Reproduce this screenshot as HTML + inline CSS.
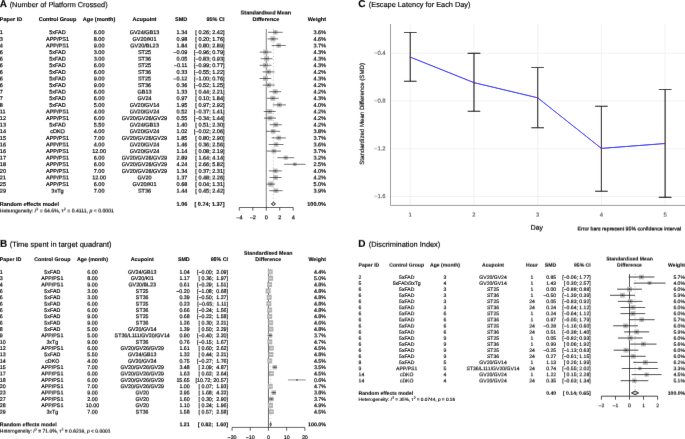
<!DOCTYPE html>
<html><head><meta charset="utf-8"><title>Figure</title>
<style>
html,body{margin:0;padding:0;background:#fff;}
body{width:685px;height:439px;overflow:hidden;font-family:"Liberation Sans",sans-serif;}
svg{display:block;}
svg text{font-family:"Liberation Sans",sans-serif;white-space:pre;text-rendering:geometricPrecision;}
</style></head><body>
<svg width="685" height="439" viewBox="0 0 685 439">
<defs>
<filter id="f0" x="0" y="0" width="685" height="439" filterUnits="userSpaceOnUse"><feConvolveMatrix order="3" kernelMatrix="0.00276 0.04704 0.00276 0.04704 0.80077 0.04704 0.00276 0.04704 0.00276" edgeMode="duplicate" preserveAlpha="false"/></filter>
<filter id="t4" x="0" y="0" width="685" height="439" filterUnits="userSpaceOnUse"><feConvolveMatrix order="3" kernelMatrix="0.02624 0.44666 0.02624 0.02624 0.44666 0.02624 0.00009 0.00154 0.00009" edgeMode="duplicate" preserveAlpha="false"/></filter>
<filter id="t5" x="0" y="0" width="685" height="439" filterUnits="userSpaceOnUse"><feConvolveMatrix order="3" kernelMatrix="0.01726 0.29384 0.01726 0.03506 0.59683 0.03506 0.00025 0.00418 0.00025" edgeMode="duplicate" preserveAlpha="false"/></filter>
<filter id="t6" x="0" y="0" width="685" height="439" filterUnits="userSpaceOnUse"><feConvolveMatrix order="3" kernelMatrix="0.01014 0.17260 0.01014 0.04184 0.71211 0.04184 0.00060 0.01014 0.00060" edgeMode="duplicate" preserveAlpha="false"/></filter>
<filter id="t7" x="0" y="0" width="685" height="439" filterUnits="userSpaceOnUse"><feConvolveMatrix order="3" kernelMatrix="0.00546 0.09300 0.00546 0.04578 0.77932 0.04578 0.00132 0.02254 0.00132" edgeMode="duplicate" preserveAlpha="false"/></filter>
<filter id="t8" x="0" y="0" width="685" height="439" filterUnits="userSpaceOnUse"><feConvolveMatrix order="3" kernelMatrix="0.00276 0.04704 0.00276 0.04704 0.80077 0.04704 0.00276 0.04704 0.00276" edgeMode="duplicate" preserveAlpha="false"/></filter>
<filter id="t9" x="0" y="0" width="685" height="439" filterUnits="userSpaceOnUse"><feConvolveMatrix order="3" kernelMatrix="0.00132 0.02254 0.00132 0.04578 0.77932 0.04578 0.00546 0.09300 0.00546" edgeMode="duplicate" preserveAlpha="false"/></filter>
<filter id="t10" x="0" y="0" width="685" height="439" filterUnits="userSpaceOnUse"><feConvolveMatrix order="3" kernelMatrix="0.00060 0.01014 0.00060 0.04184 0.71211 0.04184 0.01014 0.17260 0.01014" edgeMode="duplicate" preserveAlpha="false"/></filter>
<filter id="t11" x="0" y="0" width="685" height="439" filterUnits="userSpaceOnUse"><feConvolveMatrix order="3" kernelMatrix="0.00025 0.00418 0.00025 0.03506 0.59683 0.03506 0.01726 0.29384 0.01726" edgeMode="duplicate" preserveAlpha="false"/></filter>
<filter id="t12" x="0" y="0" width="685" height="439" filterUnits="userSpaceOnUse"><feConvolveMatrix order="3" kernelMatrix="0.00009 0.00154 0.00009 0.02624 0.44666 0.02624 0.02624 0.44666 0.02624" edgeMode="duplicate" preserveAlpha="false"/></filter>
</defs>
<g filter="url(#f0)">
<rect width="685" height="439" fill="#fff"/>
<line x1="273.41" y1="29.00" x2="273.41" y2="203.90" stroke="#a0a0a0" stroke-width="0.68" stroke-dasharray="0.99 2.38"/>
<line x1="266.27" y1="29.00" x2="266.27" y2="207.50" stroke="#000" stroke-width="0.52"/>
<rect x="273.06" y="30.06" width="4.48" height="4.48" fill="#bebebe"/>
<rect x="270.34" y="36.37" width="5.06" height="5.06" fill="#bebebe"/>
<rect x="276.40" y="43.23" width="4.54" height="4.54" fill="#bebebe"/>
<rect x="263.22" y="49.65" width="4.90" height="4.90" fill="#bebebe"/>
<rect x="264.16" y="56.25" width="4.90" height="4.90" fill="#bebebe"/>
<rect x="263.08" y="62.85" width="4.90" height="4.90" fill="#bebebe"/>
<rect x="266.07" y="69.48" width="4.84" height="4.84" fill="#bebebe"/>
<rect x="263.01" y="76.05" width="4.90" height="4.90" fill="#bebebe"/>
<rect x="266.28" y="82.68" width="4.84" height="4.84" fill="#bebebe"/>
<rect x="272.81" y="89.28" width="4.84" height="4.84" fill="#bebebe"/>
<rect x="270.36" y="95.85" width="4.90" height="4.90" fill="#bebebe"/>
<rect x="277.05" y="102.54" width="4.72" height="4.72" fill="#bebebe"/>
<rect x="267.36" y="109.08" width="4.84" height="4.84" fill="#bebebe"/>
<rect x="267.56" y="115.68" width="4.84" height="4.84" fill="#bebebe"/>
<rect x="273.29" y="122.28" width="4.84" height="4.84" fill="#bebebe"/>
<rect x="270.84" y="129.00" width="4.60" height="4.60" fill="#bebebe"/>
<rect x="276.47" y="135.63" width="4.54" height="4.54" fill="#bebebe"/>
<rect x="273.87" y="142.26" width="4.48" height="4.48" fill="#bebebe"/>
<rect x="271.68" y="148.83" width="4.54" height="4.54" fill="#bebebe"/>
<rect x="283.64" y="155.59" width="4.22" height="4.22" fill="#bebebe"/>
<rect x="292.98" y="162.43" width="3.73" height="3.73" fill="#bebebe"/>
<rect x="272.94" y="168.54" width="4.72" height="4.72" fill="#bebebe"/>
<rect x="273.08" y="175.08" width="4.84" height="4.84" fill="#bebebe"/>
<rect x="268.21" y="181.46" width="5.28" height="5.28" fill="#bebebe"/>
<rect x="273.64" y="188.37" width="4.66" height="4.66" fill="#bebebe"/>
<line x1="268.02" y1="32.30" x2="282.58" y2="32.30" stroke="#000" stroke-width="0.58"/>
<line x1="275.30" y1="31.55" x2="275.30" y2="33.05" stroke="#000" stroke-width="0.58"/>
<line x1="267.62" y1="38.90" x2="278.13" y2="38.90" stroke="#000" stroke-width="0.58"/>
<line x1="272.88" y1="38.15" x2="272.88" y2="39.65" stroke="#000" stroke-width="0.58"/>
<line x1="271.66" y1="45.50" x2="285.75" y2="45.50" stroke="#000" stroke-width="0.58"/>
<line x1="278.67" y1="44.75" x2="278.67" y2="46.25" stroke="#000" stroke-width="0.58"/>
<line x1="259.80" y1="52.10" x2="271.59" y2="52.10" stroke="#000" stroke-width="0.58"/>
<line x1="265.66" y1="51.35" x2="265.66" y2="52.85" stroke="#000" stroke-width="0.58"/>
<line x1="260.68" y1="58.70" x2="272.54" y2="58.70" stroke="#000" stroke-width="0.58"/>
<line x1="266.61" y1="57.95" x2="266.61" y2="59.45" stroke="#000" stroke-width="0.58"/>
<line x1="259.60" y1="65.30" x2="271.46" y2="65.30" stroke="#000" stroke-width="0.58"/>
<line x1="265.53" y1="64.55" x2="265.53" y2="66.05" stroke="#000" stroke-width="0.58"/>
<line x1="262.56" y1="71.90" x2="274.49" y2="71.90" stroke="#000" stroke-width="0.58"/>
<line x1="268.49" y1="71.15" x2="268.49" y2="72.65" stroke="#000" stroke-width="0.58"/>
<line x1="259.53" y1="78.50" x2="271.39" y2="78.50" stroke="#000" stroke-width="0.58"/>
<line x1="265.46" y1="77.75" x2="265.46" y2="79.25" stroke="#000" stroke-width="0.58"/>
<line x1="262.77" y1="85.10" x2="274.69" y2="85.10" stroke="#000" stroke-width="0.58"/>
<line x1="268.70" y1="84.35" x2="268.70" y2="85.85" stroke="#000" stroke-width="0.58"/>
<line x1="269.24" y1="91.70" x2="281.17" y2="91.70" stroke="#000" stroke-width="0.58"/>
<line x1="275.23" y1="90.95" x2="275.23" y2="92.45" stroke="#000" stroke-width="0.58"/>
<line x1="266.94" y1="98.30" x2="278.67" y2="98.30" stroke="#000" stroke-width="0.58"/>
<line x1="272.81" y1="97.55" x2="272.81" y2="99.05" stroke="#000" stroke-width="0.58"/>
<line x1="272.81" y1="104.90" x2="285.95" y2="104.90" stroke="#000" stroke-width="0.58"/>
<line x1="279.41" y1="104.15" x2="279.41" y2="105.65" stroke="#000" stroke-width="0.58"/>
<line x1="263.78" y1="111.50" x2="275.77" y2="111.50" stroke="#000" stroke-width="0.58"/>
<line x1="269.77" y1="110.75" x2="269.77" y2="112.25" stroke="#000" stroke-width="0.58"/>
<line x1="263.98" y1="118.10" x2="275.98" y2="118.10" stroke="#000" stroke-width="0.58"/>
<line x1="269.98" y1="117.35" x2="269.98" y2="118.85" stroke="#000" stroke-width="0.58"/>
<line x1="269.71" y1="124.70" x2="281.77" y2="124.70" stroke="#000" stroke-width="0.58"/>
<line x1="275.71" y1="123.95" x2="275.71" y2="125.45" stroke="#000" stroke-width="0.58"/>
<line x1="266.14" y1="131.30" x2="280.15" y2="131.30" stroke="#000" stroke-width="0.58"/>
<line x1="273.14" y1="130.55" x2="273.14" y2="132.05" stroke="#000" stroke-width="0.58"/>
<line x1="271.66" y1="137.90" x2="285.82" y2="137.90" stroke="#000" stroke-width="0.58"/>
<line x1="278.74" y1="137.15" x2="278.74" y2="138.65" stroke="#000" stroke-width="0.58"/>
<line x1="268.70" y1="144.50" x2="283.52" y2="144.50" stroke="#000" stroke-width="0.58"/>
<line x1="276.11" y1="143.75" x2="276.11" y2="145.25" stroke="#000" stroke-width="0.58"/>
<line x1="266.81" y1="151.10" x2="281.03" y2="151.10" stroke="#000" stroke-width="0.58"/>
<line x1="273.95" y1="150.35" x2="273.95" y2="151.85" stroke="#000" stroke-width="0.58"/>
<line x1="277.32" y1="157.70" x2="294.17" y2="157.70" stroke="#000" stroke-width="0.58"/>
<line x1="285.75" y1="156.95" x2="285.75" y2="158.45" stroke="#000" stroke-width="0.58"/>
<line x1="284.20" y1="164.30" x2="305.50" y2="164.30" stroke="#000" stroke-width="0.58"/>
<line x1="294.85" y1="163.55" x2="294.85" y2="165.05" stroke="#000" stroke-width="0.58"/>
<line x1="268.76" y1="170.90" x2="281.84" y2="170.90" stroke="#000" stroke-width="0.58"/>
<line x1="275.30" y1="170.15" x2="275.30" y2="171.65" stroke="#000" stroke-width="0.58"/>
<line x1="269.51" y1="177.50" x2="281.50" y2="177.50" stroke="#000" stroke-width="0.58"/>
<line x1="275.50" y1="176.75" x2="275.50" y2="178.25" stroke="#000" stroke-width="0.58"/>
<line x1="266.54" y1="184.10" x2="275.10" y2="184.10" stroke="#000" stroke-width="0.58"/>
<line x1="270.85" y1="183.35" x2="270.85" y2="184.85" stroke="#000" stroke-width="0.58"/>
<line x1="269.30" y1="190.70" x2="282.58" y2="190.70" stroke="#000" stroke-width="0.58"/>
<line x1="275.98" y1="189.95" x2="275.98" y2="191.45" stroke="#000" stroke-width="0.58"/>
<polygon points="271.26,203.90 273.41,202.20 275.50,203.90 273.41,205.60" fill="#c4c4c4" stroke="#000" stroke-width="0.85"/>
<line x1="239.31" y1="207.50" x2="293.23" y2="207.50" stroke="#000" stroke-width="0.68"/>
<line x1="239.31" y1="207.50" x2="239.31" y2="210.60" stroke="#000" stroke-width="0.68"/>
<line x1="252.79" y1="207.50" x2="252.79" y2="210.60" stroke="#000" stroke-width="0.68"/>
<line x1="266.27" y1="207.50" x2="266.27" y2="210.60" stroke="#000" stroke-width="0.68"/>
<line x1="279.75" y1="207.50" x2="279.75" y2="210.60" stroke="#000" stroke-width="0.68"/>
<line x1="293.23" y1="207.50" x2="293.23" y2="210.60" stroke="#000" stroke-width="0.68"/>
<line x1="270.65" y1="268.72" x2="270.65" y2="424.42" stroke="#a0a0a0" stroke-width="0.65" stroke-dasharray="0.95 2.29"/>
<line x1="268.45" y1="268.72" x2="268.45" y2="427.40" stroke="#000" stroke-width="0.65"/>
<rect x="267.96" y="269.52" width="4.77" height="4.77" fill="#b0b0b0"/>
<rect x="268.04" y="275.71" width="5.08" height="5.08" fill="#b0b0b0"/>
<rect x="267.07" y="282.12" width="4.98" height="4.98" fill="#b0b0b0"/>
<rect x="265.60" y="288.47" width="4.98" height="4.98" fill="#b0b0b0"/>
<rect x="266.67" y="294.83" width="4.98" height="4.98" fill="#b0b0b0"/>
<rect x="266.38" y="301.18" width="4.98" height="4.98" fill="#b0b0b0"/>
<rect x="267.16" y="307.54" width="4.98" height="4.98" fill="#b0b0b0"/>
<rect x="267.20" y="313.89" width="4.98" height="4.98" fill="#b0b0b0"/>
<rect x="268.30" y="320.30" width="4.88" height="4.88" fill="#b0b0b0"/>
<rect x="268.49" y="326.60" width="4.98" height="4.98" fill="#b0b0b0"/>
<rect x="267.90" y="333.26" width="4.37" height="4.37" fill="#b0b0b0"/>
<rect x="267.37" y="339.34" width="4.93" height="4.93" fill="#b0b0b0"/>
<rect x="268.97" y="345.75" width="4.82" height="4.82" fill="#b0b0b0"/>
<rect x="268.36" y="352.02" width="4.98" height="4.98" fill="#b0b0b0"/>
<rect x="267.40" y="358.46" width="4.82" height="4.82" fill="#b0b0b0"/>
<rect x="272.66" y="365.10" width="4.25" height="4.25" fill="#b0b0b0"/>
<rect x="269.01" y="371.17" width="4.82" height="4.82" fill="#b0b0b0"/>
<rect x="296.05" y="379.05" width="1.76" height="1.76" fill="#b0b0b0"/>
<rect x="267.81" y="383.83" width="4.93" height="4.93" fill="#b0b0b0"/>
<rect x="271.60" y="390.43" width="4.43" height="4.43" fill="#b0b0b0"/>
<rect x="269.18" y="396.81" width="4.37" height="4.37" fill="#b0b0b0"/>
<rect x="267.94" y="402.84" width="5.03" height="5.03" fill="#b0b0b0"/>
<rect x="268.91" y="409.30" width="4.82" height="4.82" fill="#b0b0b0"/>
<line x1="268.45" y1="271.90" x2="272.25" y2="271.90" stroke="#fff" stroke-width="0.45"/>
<line x1="270.34" y1="271.40" x2="270.34" y2="272.40" stroke="#fff" stroke-width="0.45"/>
<line x1="269.11" y1="278.25" x2="272.04" y2="278.25" stroke="#fff" stroke-width="0.45"/>
<line x1="270.58" y1="277.75" x2="270.58" y2="278.75" stroke="#fff" stroke-width="0.45"/>
<line x1="267.92" y1="284.61" x2="271.20" y2="284.61" stroke="#fff" stroke-width="0.45"/>
<line x1="269.56" y1="284.11" x2="269.56" y2="285.11" stroke="#fff" stroke-width="0.45"/>
<line x1="266.48" y1="290.96" x2="269.69" y2="290.96" stroke="#fff" stroke-width="0.45"/>
<line x1="268.09" y1="290.46" x2="268.09" y2="291.46" stroke="#fff" stroke-width="0.45"/>
<line x1="267.54" y1="297.32" x2="270.76" y2="297.32" stroke="#fff" stroke-width="0.45"/>
<line x1="269.16" y1="296.82" x2="269.16" y2="297.82" stroke="#fff" stroke-width="0.45"/>
<line x1="267.27" y1="303.67" x2="270.47" y2="303.67" stroke="#fff" stroke-width="0.45"/>
<line x1="268.87" y1="303.17" x2="268.87" y2="304.17" stroke="#fff" stroke-width="0.45"/>
<line x1="268.01" y1="310.03" x2="271.29" y2="310.03" stroke="#fff" stroke-width="0.45"/>
<line x1="269.65" y1="309.53" x2="269.65" y2="310.53" stroke="#fff" stroke-width="0.45"/>
<line x1="268.05" y1="316.38" x2="271.33" y2="316.38" stroke="#fff" stroke-width="0.45"/>
<line x1="269.69" y1="315.88" x2="269.69" y2="316.88" stroke="#fff" stroke-width="0.45"/>
<line x1="269.00" y1="322.74" x2="272.47" y2="322.74" stroke="#fff" stroke-width="0.45"/>
<line x1="270.74" y1="322.24" x2="270.74" y2="323.24" stroke="#fff" stroke-width="0.45"/>
<line x1="269.36" y1="329.09" x2="272.62" y2="329.09" stroke="#fff" stroke-width="0.45"/>
<line x1="270.98" y1="328.59" x2="270.98" y2="329.59" stroke="#fff" stroke-width="0.45"/>
<line x1="267.72" y1="335.45" x2="272.45" y2="335.45" stroke="#000" stroke-width="0.45"/>
<line x1="270.09" y1="334.70" x2="270.09" y2="336.20" stroke="#000" stroke-width="0.45"/>
<line x1="268.18" y1="341.80" x2="271.49" y2="341.80" stroke="#fff" stroke-width="0.45"/>
<line x1="269.83" y1="341.30" x2="269.83" y2="342.30" stroke="#fff" stroke-width="0.45"/>
<line x1="269.54" y1="348.16" x2="273.22" y2="348.16" stroke="#fff" stroke-width="0.45"/>
<line x1="271.38" y1="347.66" x2="271.38" y2="348.66" stroke="#fff" stroke-width="0.45"/>
<line x1="269.25" y1="354.51" x2="272.47" y2="354.51" stroke="#fff" stroke-width="0.45"/>
<line x1="270.85" y1="354.01" x2="270.85" y2="355.01" stroke="#fff" stroke-width="0.45"/>
<line x1="267.96" y1="360.87" x2="271.65" y2="360.87" stroke="#fff" stroke-width="0.45"/>
<line x1="269.81" y1="360.37" x2="269.81" y2="361.37" stroke="#fff" stroke-width="0.45"/>
<line x1="272.25" y1="367.22" x2="277.31" y2="367.22" stroke="#000" stroke-width="0.45"/>
<line x1="274.78" y1="366.47" x2="274.78" y2="367.97" stroke="#000" stroke-width="0.45"/>
<line x1="269.58" y1="373.58" x2="273.25" y2="373.58" stroke="#fff" stroke-width="0.45"/>
<line x1="271.42" y1="373.08" x2="271.42" y2="374.08" stroke="#fff" stroke-width="0.45"/>
<line x1="287.96" y1="379.94" x2="305.89" y2="379.94" stroke="#000" stroke-width="0.45"/>
<line x1="296.93" y1="379.19" x2="296.93" y2="380.69" stroke="#000" stroke-width="0.45"/>
<line x1="268.58" y1="386.29" x2="271.96" y2="386.29" stroke="#fff" stroke-width="0.45"/>
<line x1="270.27" y1="385.79" x2="270.27" y2="386.79" stroke="#fff" stroke-width="0.45"/>
<line x1="271.51" y1="392.64" x2="276.13" y2="392.64" stroke="#000" stroke-width="0.45"/>
<line x1="273.82" y1="391.89" x2="273.82" y2="393.39" stroke="#000" stroke-width="0.45"/>
<line x1="269.00" y1="399.00" x2="273.73" y2="399.00" stroke="#000" stroke-width="0.45"/>
<line x1="271.36" y1="398.25" x2="271.36" y2="399.75" stroke="#000" stroke-width="0.45"/>
<line x1="268.89" y1="405.36" x2="272.02" y2="405.36" stroke="#fff" stroke-width="0.45"/>
<line x1="270.45" y1="404.86" x2="270.45" y2="405.86" stroke="#fff" stroke-width="0.45"/>
<line x1="269.49" y1="411.71" x2="273.15" y2="411.71" stroke="#fff" stroke-width="0.45"/>
<line x1="271.33" y1="411.21" x2="271.33" y2="412.21" stroke="#fff" stroke-width="0.45"/>
<polygon points="269.94,424.42 270.65,422.52 271.36,424.42 270.65,426.32" fill="#c4c4c4" stroke="#000" stroke-width="0.65"/>
<line x1="232.05" y1="427.40" x2="304.85" y2="427.40" stroke="#000" stroke-width="0.65"/>
<line x1="232.05" y1="427.40" x2="232.05" y2="430.80" stroke="#000" stroke-width="0.65"/>
<line x1="250.25" y1="427.40" x2="250.25" y2="430.80" stroke="#000" stroke-width="0.65"/>
<line x1="268.45" y1="427.40" x2="268.45" y2="430.80" stroke="#000" stroke-width="0.65"/>
<line x1="286.65" y1="427.40" x2="286.65" y2="430.80" stroke="#000" stroke-width="0.65"/>
<line x1="304.85" y1="427.40" x2="304.85" y2="430.80" stroke="#000" stroke-width="0.65"/>
<line x1="635.12" y1="273.95" x2="635.12" y2="392.90" stroke="#a0a0a0" stroke-width="0.75" stroke-dasharray="0.91 2.20"/>
<line x1="629.50" y1="273.95" x2="629.50" y2="396.20" stroke="#000" stroke-width="0.75"/>
<rect x="639.10" y="274.66" width="4.68" height="4.68" fill="#bebebe"/>
<rect x="647.63" y="281.14" width="3.92" height="3.92" fill="#bebebe"/>
<rect x="627.10" y="286.80" width="4.80" height="4.80" fill="#bebebe"/>
<rect x="620.09" y="292.92" width="4.76" height="4.76" fill="#bebebe"/>
<rect x="627.80" y="299.00" width="4.80" height="4.80" fill="#bebebe"/>
<rect x="630.47" y="305.10" width="4.80" height="4.80" fill="#bebebe"/>
<rect x="630.47" y="311.20" width="4.80" height="4.80" fill="#bebebe"/>
<rect x="639.38" y="317.36" width="4.68" height="4.68" fill="#bebebe"/>
<rect x="623.17" y="323.40" width="4.80" height="4.80" fill="#bebebe"/>
<rect x="634.29" y="329.52" width="4.76" height="4.76" fill="#bebebe"/>
<rect x="627.80" y="335.60" width="4.80" height="4.80" fill="#bebebe"/>
<rect x="641.09" y="341.78" width="4.64" height="4.64" fill="#bebebe"/>
<rect x="623.59" y="347.80" width="4.80" height="4.80" fill="#bebebe"/>
<rect x="630.89" y="353.90" width="4.80" height="4.80" fill="#bebebe"/>
<rect x="642.94" y="359.96" width="4.88" height="4.88" fill="#bebebe"/>
<rect x="638.12" y="366.72" width="3.56" height="3.56" fill="#bebebe"/>
<rect x="644.56" y="372.52" width="4.16" height="4.16" fill="#bebebe"/>
<rect x="632.20" y="378.49" width="4.43" height="4.43" fill="#bebebe"/>
<line x1="628.66" y1="277.00" x2="654.37" y2="277.00" stroke="#000" stroke-width="0.75"/>
<line x1="641.44" y1="276.25" x2="641.44" y2="277.75" stroke="#000" stroke-width="0.75"/>
<line x1="633.72" y1="283.10" x2="665.61" y2="283.10" stroke="#000" stroke-width="0.75"/>
<line x1="649.59" y1="282.35" x2="649.59" y2="283.85" stroke="#000" stroke-width="0.75"/>
<line x1="617.14" y1="289.20" x2="641.86" y2="289.20" stroke="#000" stroke-width="0.75"/>
<line x1="629.50" y1="288.45" x2="629.50" y2="289.95" stroke="#000" stroke-width="0.75"/>
<line x1="609.97" y1="295.30" x2="634.98" y2="295.30" stroke="#000" stroke-width="0.75"/>
<line x1="622.48" y1="294.55" x2="622.48" y2="296.05" stroke="#000" stroke-width="0.75"/>
<line x1="617.84" y1="301.40" x2="642.43" y2="301.40" stroke="#000" stroke-width="0.75"/>
<line x1="630.20" y1="300.65" x2="630.20" y2="302.15" stroke="#000" stroke-width="0.75"/>
<line x1="620.51" y1="307.50" x2="645.24" y2="307.50" stroke="#000" stroke-width="0.75"/>
<line x1="632.87" y1="306.75" x2="632.87" y2="308.25" stroke="#000" stroke-width="0.75"/>
<line x1="620.51" y1="313.60" x2="645.24" y2="313.60" stroke="#000" stroke-width="0.75"/>
<line x1="632.87" y1="312.85" x2="632.87" y2="314.35" stroke="#000" stroke-width="0.75"/>
<line x1="628.80" y1="319.70" x2="654.65" y2="319.70" stroke="#000" stroke-width="0.75"/>
<line x1="641.72" y1="318.95" x2="641.72" y2="320.45" stroke="#000" stroke-width="0.75"/>
<line x1="613.20" y1="325.80" x2="637.93" y2="325.80" stroke="#000" stroke-width="0.75"/>
<line x1="625.57" y1="325.05" x2="625.57" y2="326.55" stroke="#000" stroke-width="0.75"/>
<line x1="624.16" y1="331.90" x2="649.17" y2="331.90" stroke="#000" stroke-width="0.75"/>
<line x1="636.67" y1="331.15" x2="636.67" y2="332.65" stroke="#000" stroke-width="0.75"/>
<line x1="617.98" y1="338.00" x2="642.57" y2="338.00" stroke="#000" stroke-width="0.75"/>
<line x1="630.20" y1="337.25" x2="630.20" y2="338.75" stroke="#000" stroke-width="0.75"/>
<line x1="630.34" y1="344.10" x2="656.48" y2="344.10" stroke="#000" stroke-width="0.75"/>
<line x1="643.41" y1="343.35" x2="643.41" y2="344.85" stroke="#000" stroke-width="0.75"/>
<line x1="613.62" y1="350.20" x2="638.35" y2="350.20" stroke="#000" stroke-width="0.75"/>
<line x1="625.99" y1="349.45" x2="625.99" y2="350.95" stroke="#000" stroke-width="0.75"/>
<line x1="620.93" y1="356.30" x2="645.66" y2="356.30" stroke="#000" stroke-width="0.75"/>
<line x1="633.29" y1="355.55" x2="633.29" y2="357.05" stroke="#000" stroke-width="0.75"/>
<line x1="633.15" y1="362.40" x2="657.46" y2="362.40" stroke="#000" stroke-width="0.75"/>
<line x1="645.38" y1="361.65" x2="645.38" y2="363.15" stroke="#000" stroke-width="0.75"/>
<line x1="621.77" y1="368.50" x2="657.88" y2="368.50" stroke="#000" stroke-width="0.75"/>
<line x1="639.90" y1="367.75" x2="639.90" y2="369.25" stroke="#000" stroke-width="0.75"/>
<line x1="631.61" y1="374.60" x2="661.53" y2="374.60" stroke="#000" stroke-width="0.75"/>
<line x1="646.64" y1="373.85" x2="646.64" y2="375.35" stroke="#000" stroke-width="0.75"/>
<line x1="620.65" y1="380.70" x2="648.33" y2="380.70" stroke="#000" stroke-width="0.75"/>
<line x1="634.42" y1="379.95" x2="634.42" y2="381.45" stroke="#000" stroke-width="0.75"/>
<polygon points="631.47,392.90 635.12,391.00 638.63,392.90 635.12,394.80" fill="#c4c4c4" stroke="#000" stroke-width="0.85"/>
<line x1="601.40" y1="396.20" x2="657.60" y2="396.20" stroke="#000" stroke-width="0.75"/>
<line x1="601.40" y1="396.20" x2="601.40" y2="399.70" stroke="#000" stroke-width="0.75"/>
<line x1="615.45" y1="396.20" x2="615.45" y2="399.70" stroke="#000" stroke-width="0.75"/>
<line x1="629.50" y1="396.20" x2="629.50" y2="399.70" stroke="#000" stroke-width="0.75"/>
<line x1="643.55" y1="396.20" x2="643.55" y2="399.70" stroke="#000" stroke-width="0.75"/>
<line x1="657.60" y1="396.20" x2="657.60" y2="399.70" stroke="#000" stroke-width="0.75"/>
<line x1="390.5" y1="53.20" x2="685" y2="53.20" stroke="#e9e9e9" stroke-width="0.6"/>
<line x1="390.5" y1="101.00" x2="685" y2="101.00" stroke="#e9e9e9" stroke-width="0.6"/>
<line x1="390.5" y1="148.80" x2="685" y2="148.80" stroke="#e9e9e9" stroke-width="0.6"/>
<line x1="390.5" y1="196.60" x2="685" y2="196.60" stroke="#e9e9e9" stroke-width="0.6"/>
<line x1="410.25" y1="24.0" x2="410.25" y2="205.4" stroke="#e9e9e9" stroke-width="0.6"/>
<line x1="473.97" y1="24.0" x2="473.97" y2="205.4" stroke="#e9e9e9" stroke-width="0.6"/>
<line x1="537.69" y1="24.0" x2="537.69" y2="205.4" stroke="#e9e9e9" stroke-width="0.6"/>
<line x1="601.41" y1="24.0" x2="601.41" y2="205.4" stroke="#e9e9e9" stroke-width="0.6"/>
<line x1="665.13" y1="24.0" x2="665.13" y2="205.4" stroke="#e9e9e9" stroke-width="0.6"/>
<polyline points="390.5,24.0 390.5,205.4 685,205.4" fill="none" stroke="#555" stroke-width="0.6"/>
<path d="M410.25,32.5 V81.2" stroke="#111" stroke-width="1.1" fill="none"/>
<path d="M403.95,32.5 H416.55 M403.95,81.2 H416.55" stroke="#000" stroke-width="1.12" fill="none"/>
<path d="M473.97,53.4 V111.25" stroke="#111" stroke-width="1.1" fill="none"/>
<path d="M467.67,53.4 H480.27 M467.67,111.25 H480.27" stroke="#000" stroke-width="1.12" fill="none"/>
<path d="M537.69,67.5 V127.7" stroke="#111" stroke-width="1.1" fill="none"/>
<path d="M531.39,67.5 H543.99 M531.39,127.7 H543.99" stroke="#000" stroke-width="1.12" fill="none"/>
<path d="M601.41,106.2 V191.25" stroke="#111" stroke-width="1.1" fill="none"/>
<path d="M595.11,106.2 H607.71 M595.11,191.25 H607.71" stroke="#000" stroke-width="1.12" fill="none"/>
<path d="M665.13,89.5 V197.4" stroke="#111" stroke-width="1.1" fill="none"/>
<path d="M658.83,89.5 H671.43 M658.83,197.4 H671.43" stroke="#000" stroke-width="1.12" fill="none"/>
<polyline points="410.25,57.1 473.97,82.65 537.69,97.8 601.41,148.4 665.13,143.5" fill="none" stroke="#0000ff" stroke-width="1.0"/>
<circle cx="410.25" cy="57.1" r="0.8" fill="#d0101a"/>
<circle cx="473.97" cy="82.65" r="0.8" fill="#d0101a"/>
<circle cx="537.69" cy="97.8" r="0.8" fill="#d0101a"/>
<circle cx="601.41" cy="148.4" r="0.8" fill="#d0101a"/>
<circle cx="665.13" cy="143.5" r="0.8" fill="#d0101a"/>
<text transform="translate(364.3,113.9) rotate(-90)" font-size="6.12" stroke="#000" stroke-width="0.16" text-anchor="middle">Standardized Mean Difference (SMD)</text>
</g>
<g filter="url(#t4)" stroke="#000" stroke-width="0.18">
<text x="-0.20" y="287" font-size="5.31" stroke-width="0.17">4</text>
<text x="52.30" y="287" font-size="5.31" text-anchor="middle" stroke-width="0.17">APP/PS1</text>
<text x="92.50" y="287" font-size="5.31" text-anchor="middle" stroke-width="0.17">9.00</text>
<text x="142.20" y="287" font-size="5.31" text-anchor="middle" stroke-width="0.17">GV20/BL23</text>
<text x="189.70" y="287" font-size="5.31" text-anchor="end" stroke-width="0.17">0.61</text>
<text x="228.00" y="287" font-size="5.31" text-anchor="end" stroke-width="0.17">[−0.29;  1.51]</text>
<text x="326.00" y="287" font-size="5.31" text-anchor="end" stroke-width="0.17">4.8%</text>
<text x="-0.20" y="395" font-size="5.31" stroke-width="0.17">23</text>
<text x="52.30" y="395" font-size="5.31" text-anchor="middle" stroke-width="0.17">APP/PS1</text>
<text x="92.50" y="395" font-size="5.31" text-anchor="middle" stroke-width="0.17">9.00</text>
<text x="142.20" y="395" font-size="5.31" text-anchor="middle" stroke-width="0.17">GV20</text>
<text x="189.70" y="395" font-size="5.31" text-anchor="end" stroke-width="0.17">2.95</text>
<text x="228.00" y="395" font-size="5.31" text-anchor="end" stroke-width="0.17">[ 1.68;  4.22]</text>
<text x="326.00" y="395" font-size="5.31" text-anchor="end" stroke-width="0.17">3.8%</text>
<text x="629.50" y="261" font-size="5.10" text-anchor="middle" font-weight="bold" stroke-width="0.07">Standardised Mean</text>
<text x="358.60" y="322" font-size="5.10" stroke-width="0.13">6</text>
<text x="406.70" y="322" font-size="5.10" text-anchor="middle" stroke-width="0.13">5xFAD</text>
<text x="445.00" y="322" font-size="5.10" text-anchor="middle" stroke-width="0.13">6</text>
<text x="493.00" y="322" font-size="5.10" text-anchor="middle" stroke-width="0.13">ST36</text>
<text x="532.00" y="322" font-size="5.10" text-anchor="middle" stroke-width="0.13">1</text>
<text x="556.20" y="322" font-size="5.10" text-anchor="end" stroke-width="0.13">0.87</text>
<text x="590.70" y="322" font-size="5.10" text-anchor="end" stroke-width="0.13">[−0.05; 1.79]</text>
<text x="685.00" y="322" font-size="5.10" text-anchor="end" stroke-width="0.13">5.7%</text>
<text x="358.60" y="383" font-size="5.10" stroke-width="0.13">14</text>
<text x="406.70" y="383" font-size="5.10" text-anchor="middle" stroke-width="0.13">cDKO</text>
<text x="445.00" y="383" font-size="5.10" text-anchor="middle" stroke-width="0.13">4</text>
<text x="493.00" y="383" font-size="5.10" text-anchor="middle" stroke-width="0.13">GV20/GV24</text>
<text x="532.00" y="383" font-size="5.10" text-anchor="middle" stroke-width="0.13">24</text>
<text x="556.20" y="383" font-size="5.10" text-anchor="end" stroke-width="0.13">0.35</text>
<text x="590.70" y="383" font-size="5.10" text-anchor="end" stroke-width="0.13">[−0.63; 1.34]</text>
<text x="685.00" y="383" font-size="5.10" text-anchor="end" stroke-width="0.13">5.1%</text>
</g>
<g filter="url(#t5)" stroke="#000" stroke-width="0.18">
<text x="-0.20" y="61" font-size="5.53" stroke-width="0.18">6</text>
<text x="57.50" y="61" font-size="5.53" text-anchor="middle" stroke-width="0.18">5xFAD</text>
<text x="99.10" y="61" font-size="5.53" text-anchor="middle" stroke-width="0.18">3.00</text>
<text x="144.50" y="61" font-size="5.53" text-anchor="middle" stroke-width="0.18">ST36</text>
<text x="187.30" y="61" font-size="5.53" text-anchor="end" stroke-width="0.18">0.05</text>
<text x="224.50" y="61" font-size="5.53" text-anchor="end" stroke-width="0.18">[−0.83; 0.93]</text>
<text x="326.00" y="61" font-size="5.53" text-anchor="end" stroke-width="0.18">4.3%</text>
<text x="-0.20" y="94" font-size="5.53" stroke-width="0.18">7</text>
<text x="57.50" y="94" font-size="5.53" text-anchor="middle" stroke-width="0.18">5xFAD</text>
<text x="99.10" y="94" font-size="5.53" text-anchor="middle" stroke-width="0.18">6.00</text>
<text x="144.50" y="94" font-size="5.53" text-anchor="middle" stroke-width="0.18">GB13</text>
<text x="187.30" y="94" font-size="5.53" text-anchor="end" stroke-width="0.18">1.33</text>
<text x="224.50" y="94" font-size="5.53" text-anchor="end" stroke-width="0.18">[ 0.44; 2.21]</text>
<text x="326.00" y="94" font-size="5.53" text-anchor="end" stroke-width="0.18">4.2%</text>
<text x="-0.20" y="127" font-size="5.53" stroke-width="0.18">13</text>
<text x="57.50" y="127" font-size="5.53" text-anchor="middle" stroke-width="0.18">5xFAD</text>
<text x="99.10" y="127" font-size="5.53" text-anchor="middle" stroke-width="0.18">5.50</text>
<text x="144.50" y="127" font-size="5.53" text-anchor="middle" stroke-width="0.18">GV24/GB13</text>
<text x="187.30" y="127" font-size="5.53" text-anchor="end" stroke-width="0.18">1.40</text>
<text x="224.50" y="127" font-size="5.53" text-anchor="end" stroke-width="0.18">[ 0.51; 2.30]</text>
<text x="326.00" y="127" font-size="5.53" text-anchor="end" stroke-width="0.18">4.2%</text>
<text x="-0.20" y="160" font-size="5.53" stroke-width="0.18">17</text>
<text x="57.50" y="160" font-size="5.53" text-anchor="middle" stroke-width="0.18">APP/PS1</text>
<text x="99.10" y="160" font-size="5.53" text-anchor="middle" stroke-width="0.18">6.00</text>
<text x="144.50" y="160" font-size="5.53" text-anchor="middle" stroke-width="0.18">GV20/GV26/GV29</text>
<text x="187.30" y="160" font-size="5.53" text-anchor="end" stroke-width="0.18">2.89</text>
<text x="224.50" y="160" font-size="5.53" text-anchor="end" stroke-width="0.18">[ 1.64; 4.14]</text>
<text x="326.00" y="160" font-size="5.53" text-anchor="end" stroke-width="0.18">3.2%</text>
<text x="-0.20" y="193" font-size="5.53" stroke-width="0.18">29</text>
<text x="57.50" y="193" font-size="5.53" text-anchor="middle" stroke-width="0.18">3xTg</text>
<text x="99.10" y="193" font-size="5.53" text-anchor="middle" stroke-width="0.18">7.00</text>
<text x="144.50" y="193" font-size="5.53" text-anchor="middle" stroke-width="0.18">ST36</text>
<text x="187.30" y="193" font-size="5.53" text-anchor="end" stroke-width="0.18">1.44</text>
<text x="224.50" y="193" font-size="5.53" text-anchor="end" stroke-width="0.18">[ 0.45; 2.42]</text>
<text x="326.00" y="193" font-size="5.53" text-anchor="end" stroke-width="0.18">3.9%</text>
<text x="-0.20" y="306" font-size="5.31" stroke-width="0.17">6</text>
<text x="52.30" y="306" font-size="5.31" text-anchor="middle" stroke-width="0.17">5xFAD</text>
<text x="92.50" y="306" font-size="5.31" text-anchor="middle" stroke-width="0.17">6.00</text>
<text x="142.20" y="306" font-size="5.31" text-anchor="middle" stroke-width="0.17">ST25</text>
<text x="189.70" y="306" font-size="5.31" text-anchor="end" stroke-width="0.17">0.23</text>
<text x="228.00" y="306" font-size="5.31" text-anchor="end" stroke-width="0.17">[−0.65;  1.11]</text>
<text x="326.00" y="306" font-size="5.31" text-anchor="end" stroke-width="0.17">4.8%</text>
<text x="-0.20" y="325" font-size="5.31" stroke-width="0.17">6</text>
<text x="52.30" y="325" font-size="5.31" text-anchor="middle" stroke-width="0.17">5xFAD</text>
<text x="92.50" y="325" font-size="5.31" text-anchor="middle" stroke-width="0.17">9.00</text>
<text x="142.20" y="325" font-size="5.31" text-anchor="middle" stroke-width="0.17">ST36</text>
<text x="189.70" y="325" font-size="5.31" text-anchor="end" stroke-width="0.17">1.26</text>
<text x="228.00" y="325" font-size="5.31" text-anchor="end" stroke-width="0.17">[ 0.30;  2.21]</text>
<text x="326.00" y="325" font-size="5.31" text-anchor="end" stroke-width="0.17">4.6%</text>
<text x="-0.20" y="414" font-size="5.31" stroke-width="0.17">29</text>
<text x="52.30" y="414" font-size="5.31" text-anchor="middle" stroke-width="0.17">3xTg</text>
<text x="92.50" y="414" font-size="5.31" text-anchor="middle" stroke-width="0.17">7.00</text>
<text x="142.20" y="414" font-size="5.31" text-anchor="middle" stroke-width="0.17">ST36</text>
<text x="189.70" y="414" font-size="5.31" text-anchor="end" stroke-width="0.17">1.58</text>
<text x="228.00" y="414" font-size="5.31" text-anchor="end" stroke-width="0.17">[ 0.57;  2.58]</text>
<text x="326.00" y="414" font-size="5.31" text-anchor="end" stroke-width="0.17">4.5%</text>
<text x="-0.20" y="433" font-size="4.94" stroke-width="0.13">Heterogeneity: <tspan font-style="italic">I</tspan><tspan dy="-2.22" dx="0.30" font-size="3.46">2</tspan><tspan dy="2.22"> = 71.0%, τ</tspan><tspan dy="-2.22" dx="0.30" font-size="3.46">2</tspan><tspan dy="2.22"> = 0.6216, </tspan><tspan font-style="italic">p</tspan> &lt; 0.0001</text>
<text x="358.60" y="267" font-size="5.10" font-weight="bold" stroke-width="0.07">Paper ID</text>
<text x="406.70" y="267" font-size="5.10" text-anchor="middle" font-weight="bold" stroke-width="0.07">Control Group</text>
<text x="445.00" y="267" font-size="5.10" text-anchor="middle" font-weight="bold" stroke-width="0.07">Age (month)</text>
<text x="493.00" y="267" font-size="5.10" text-anchor="middle" font-weight="bold" stroke-width="0.07">Acupoint</text>
<text x="532.00" y="267" font-size="5.10" text-anchor="middle" font-weight="bold" stroke-width="0.07">Hour</text>
<text x="556.20" y="267" font-size="5.10" text-anchor="end" font-weight="bold" stroke-width="0.07">SMD</text>
<text x="590.70" y="267" font-size="5.10" text-anchor="end" font-weight="bold" stroke-width="0.07">95% CI</text>
<text x="685.00" y="267" font-size="5.10" text-anchor="end" font-weight="bold" stroke-width="0.07">Weight</text>
<text x="629.50" y="267" font-size="5.10" text-anchor="middle" font-weight="bold" stroke-width="0.07">Difference</text>
<text x="358.60" y="328" font-size="5.10" stroke-width="0.13">6</text>
<text x="406.70" y="328" font-size="5.10" text-anchor="middle" stroke-width="0.13">5xFAD</text>
<text x="445.00" y="328" font-size="5.10" text-anchor="middle" stroke-width="0.13">6</text>
<text x="493.00" y="328" font-size="5.10" text-anchor="middle" stroke-width="0.13">ST25</text>
<text x="532.00" y="328" font-size="5.10" text-anchor="middle" stroke-width="0.13">24</text>
<text x="556.20" y="328" font-size="5.10" text-anchor="end" stroke-width="0.13">−0.28</text>
<text x="590.70" y="328" font-size="5.10" text-anchor="end" stroke-width="0.13">[−1.16; 0.60]</text>
<text x="685.00" y="328" font-size="5.10" text-anchor="end" stroke-width="0.13">6.0%</text>
<text x="385.70" y="103" font-size="5.95" text-anchor="end" fill="#4d4d4d" stroke="#4d4d4d" stroke-width="0.1">−0.8</text>
<text x="410.25" y="217" font-size="5.95" text-anchor="middle" fill="#4d4d4d" stroke="#4d4d4d" stroke-width="0.1">1</text>
<text x="473.97" y="217" font-size="5.95" text-anchor="middle" fill="#4d4d4d" stroke="#4d4d4d" stroke-width="0.1">2</text>
<text x="537.69" y="217" font-size="5.95" text-anchor="middle" fill="#4d4d4d" stroke="#4d4d4d" stroke-width="0.1">3</text>
<text x="601.41" y="217" font-size="5.95" text-anchor="middle" fill="#4d4d4d" stroke="#4d4d4d" stroke-width="0.1">4</text>
<text x="665.13" y="217" font-size="5.95" text-anchor="middle" fill="#4d4d4d" stroke="#4d4d4d" stroke-width="0.1">5</text>
</g>
<g filter="url(#t6)" stroke="#000" stroke-width="0.18">
<text x="-0.10" y="247" font-size="10.00" font-weight="bold" stroke-width="0.1">B</text>
<text x="9.70" y="247" font-size="7.45" stroke-width="0.15">(Time spent in target quadrant)</text>
<text x="358.30" y="247" font-size="10.00" font-weight="bold" stroke-width="0.1">D</text>
<text x="368.80" y="247" font-size="7.40" stroke-width="0.15">(Discrimination Index)</text>
<text x="268.30" y="255" font-size="5.31" text-anchor="middle" font-weight="bold" stroke-width="0.1">Standardised Mean</text>
<text x="-0.20" y="274" font-size="5.31" stroke-width="0.17">1</text>
<text x="52.30" y="274" font-size="5.31" text-anchor="middle" stroke-width="0.17">5xFAD</text>
<text x="92.50" y="274" font-size="5.31" text-anchor="middle" stroke-width="0.17">6.00</text>
<text x="142.20" y="274" font-size="5.31" text-anchor="middle" stroke-width="0.17">GV24/GB13</text>
<text x="189.70" y="274" font-size="5.31" text-anchor="end" stroke-width="0.17">1.04</text>
<text x="228.00" y="274" font-size="5.31" text-anchor="end" stroke-width="0.17">[−0.00;  2.09]</text>
<text x="326.00" y="274" font-size="5.31" text-anchor="end" stroke-width="0.17">4.4%</text>
<text x="-0.20" y="344" font-size="5.31" stroke-width="0.17">10</text>
<text x="52.30" y="344" font-size="5.31" text-anchor="middle" stroke-width="0.17">3xTg</text>
<text x="92.50" y="344" font-size="5.31" text-anchor="middle" stroke-width="0.17">9.00</text>
<text x="142.20" y="344" font-size="5.31" text-anchor="middle" stroke-width="0.17">ST36</text>
<text x="189.70" y="344" font-size="5.31" text-anchor="end" stroke-width="0.17">0.76</text>
<text x="228.00" y="344" font-size="5.31" text-anchor="end" stroke-width="0.17">[−0.15;  1.67]</text>
<text x="326.00" y="344" font-size="5.31" text-anchor="end" stroke-width="0.17">4.7%</text>
<text x="-0.20" y="363" font-size="5.31" stroke-width="0.17">14</text>
<text x="52.30" y="363" font-size="5.31" text-anchor="middle" stroke-width="0.17">cDKO</text>
<text x="92.50" y="363" font-size="5.31" text-anchor="middle" stroke-width="0.17">4.00</text>
<text x="142.20" y="363" font-size="5.31" text-anchor="middle" stroke-width="0.17">GV20/GV24</text>
<text x="189.70" y="363" font-size="5.31" text-anchor="end" stroke-width="0.17">0.75</text>
<text x="228.00" y="363" font-size="5.31" text-anchor="end" stroke-width="0.17">[−0.27;  1.76]</text>
<text x="326.00" y="363" font-size="5.31" text-anchor="end" stroke-width="0.17">4.5%</text>
<text x="358.60" y="334" font-size="5.10" stroke-width="0.13">6</text>
<text x="406.70" y="334" font-size="5.10" text-anchor="middle" stroke-width="0.13">5xFAD</text>
<text x="445.00" y="334" font-size="5.10" text-anchor="middle" stroke-width="0.13">6</text>
<text x="493.00" y="334" font-size="5.10" text-anchor="middle" stroke-width="0.13">ST36</text>
<text x="532.00" y="334" font-size="5.10" text-anchor="middle" stroke-width="0.13">24</text>
<text x="556.20" y="334" font-size="5.10" text-anchor="end" stroke-width="0.13">0.51</text>
<text x="590.70" y="334" font-size="5.10" text-anchor="end" stroke-width="0.13">[−0.38; 1.40]</text>
<text x="685.00" y="334" font-size="5.10" text-anchor="end" stroke-width="0.13">5.9%</text>
<text x="358.60" y="395" font-size="5.10" font-weight="bold" stroke-width="0.07">Random effects model</text>
<text x="556.20" y="395" font-size="5.10" text-anchor="end" font-weight="bold" stroke-width="0.07">0.40</text>
<text x="590.70" y="395" font-size="5.10" text-anchor="end" font-weight="bold" stroke-width="0.07">[ 0.14; 0.65]</text>
<text x="685.00" y="395" font-size="5.10" text-anchor="end" font-weight="bold" stroke-width="0.07">100.0%</text>
<text x="536.80" y="230" font-size="6.80" text-anchor="middle" stroke-width="0.18">Day</text>
</g>
<g filter="url(#t7)" stroke="#000" stroke-width="0.18">
<text x="-0.20" y="41" font-size="5.53" stroke-width="0.18">3</text>
<text x="57.50" y="41" font-size="5.53" text-anchor="middle" stroke-width="0.18">APP/PS1</text>
<text x="99.10" y="41" font-size="5.53" text-anchor="middle" stroke-width="0.18">8.00</text>
<text x="144.50" y="41" font-size="5.53" text-anchor="middle" stroke-width="0.18">GV20/KI1</text>
<text x="187.30" y="41" font-size="5.53" text-anchor="end" stroke-width="0.18">0.98</text>
<text x="224.50" y="41" font-size="5.53" text-anchor="end" stroke-width="0.18">[ 0.20; 1.76]</text>
<text x="326.00" y="41" font-size="5.53" text-anchor="end" stroke-width="0.18">4.6%</text>
<text x="-0.20" y="74" font-size="5.53" stroke-width="0.18">6</text>
<text x="57.50" y="74" font-size="5.53" text-anchor="middle" stroke-width="0.18">5xFAD</text>
<text x="99.10" y="74" font-size="5.53" text-anchor="middle" stroke-width="0.18">6.00</text>
<text x="144.50" y="74" font-size="5.53" text-anchor="middle" stroke-width="0.18">ST36</text>
<text x="187.30" y="74" font-size="5.53" text-anchor="end" stroke-width="0.18">0.33</text>
<text x="224.50" y="74" font-size="5.53" text-anchor="end" stroke-width="0.18">[−0.55; 1.22]</text>
<text x="326.00" y="74" font-size="5.53" text-anchor="end" stroke-width="0.18">4.2%</text>
<text x="-0.20" y="107" font-size="5.53" stroke-width="0.18">8</text>
<text x="57.50" y="107" font-size="5.53" text-anchor="middle" stroke-width="0.18">5xFAD</text>
<text x="99.10" y="107" font-size="5.53" text-anchor="middle" stroke-width="0.18">5.00</text>
<text x="144.50" y="107" font-size="5.53" text-anchor="middle" stroke-width="0.18">GV20/GV14</text>
<text x="187.30" y="107" font-size="5.53" text-anchor="end" stroke-width="0.18">1.95</text>
<text x="224.50" y="107" font-size="5.53" text-anchor="end" stroke-width="0.18">[ 0.97; 2.92]</text>
<text x="326.00" y="107" font-size="5.53" text-anchor="end" stroke-width="0.18">4.0%</text>
<text x="-0.20" y="140" font-size="5.53" stroke-width="0.18">15</text>
<text x="57.50" y="140" font-size="5.53" text-anchor="middle" stroke-width="0.18">APP/PS1</text>
<text x="99.10" y="140" font-size="5.53" text-anchor="middle" stroke-width="0.18">7.00</text>
<text x="144.50" y="140" font-size="5.53" text-anchor="middle" stroke-width="0.18">GV20/GV26/GV29</text>
<text x="187.30" y="140" font-size="5.53" text-anchor="end" stroke-width="0.18">1.85</text>
<text x="224.50" y="140" font-size="5.53" text-anchor="end" stroke-width="0.18">[ 0.80; 2.90]</text>
<text x="326.00" y="140" font-size="5.53" text-anchor="end" stroke-width="0.18">3.7%</text>
<text x="-0.20" y="173" font-size="5.53" stroke-width="0.18">20</text>
<text x="57.50" y="173" font-size="5.53" text-anchor="middle" stroke-width="0.18">APP/PS1</text>
<text x="99.10" y="173" font-size="5.53" text-anchor="middle" stroke-width="0.18">7.00</text>
<text x="144.50" y="173" font-size="5.53" text-anchor="middle" stroke-width="0.18">GV20/GV26/GV29</text>
<text x="187.30" y="173" font-size="5.53" text-anchor="end" stroke-width="0.18">1.34</text>
<text x="224.50" y="173" font-size="5.53" text-anchor="end" stroke-width="0.18">[ 0.37; 2.31]</text>
<text x="326.00" y="173" font-size="5.53" text-anchor="end" stroke-width="0.18">4.0%</text>
<text x="-0.20" y="206" font-size="5.53" font-weight="bold" stroke-width="0.12">Random effects model</text>
<text x="187.30" y="206" font-size="5.53" text-anchor="end" font-weight="bold" stroke-width="0.12">1.06</text>
<text x="224.50" y="206" font-size="5.53" text-anchor="end" font-weight="bold" stroke-width="0.12">[ 0.74; 1.37]</text>
<text x="326.00" y="206" font-size="5.53" text-anchor="end" font-weight="bold" stroke-width="0.12">100.0%</text>
<text x="-0.20" y="293" font-size="5.31" stroke-width="0.17">6</text>
<text x="52.30" y="293" font-size="5.31" text-anchor="middle" stroke-width="0.17">5xFAD</text>
<text x="92.50" y="293" font-size="5.31" text-anchor="middle" stroke-width="0.17">3.00</text>
<text x="142.20" y="293" font-size="5.31" text-anchor="middle" stroke-width="0.17">ST25</text>
<text x="189.70" y="293" font-size="5.31" text-anchor="end" stroke-width="0.17">−0.20</text>
<text x="228.00" y="293" font-size="5.31" text-anchor="end" stroke-width="0.17">[−1.08;  0.68]</text>
<text x="326.00" y="293" font-size="5.31" text-anchor="end" stroke-width="0.17">4.8%</text>
<text x="-0.20" y="312" font-size="5.31" stroke-width="0.17">6</text>
<text x="52.30" y="312" font-size="5.31" text-anchor="middle" stroke-width="0.17">5xFAD</text>
<text x="92.50" y="312" font-size="5.31" text-anchor="middle" stroke-width="0.17">6.00</text>
<text x="142.20" y="312" font-size="5.31" text-anchor="middle" stroke-width="0.17">ST36</text>
<text x="189.70" y="312" font-size="5.31" text-anchor="end" stroke-width="0.17">0.66</text>
<text x="228.00" y="312" font-size="5.31" text-anchor="end" stroke-width="0.17">[−0.24;  1.56]</text>
<text x="326.00" y="312" font-size="5.31" text-anchor="end" stroke-width="0.17">4.8%</text>
<text x="-0.20" y="382" font-size="5.31" stroke-width="0.17">18</text>
<text x="52.30" y="382" font-size="5.31" text-anchor="middle" stroke-width="0.17">APP/PS1</text>
<text x="92.50" y="382" font-size="5.31" text-anchor="middle" stroke-width="0.17">6.00</text>
<text x="142.20" y="382" font-size="5.31" text-anchor="middle" stroke-width="0.17">GV20/GV26/GV29</text>
<text x="189.70" y="382" font-size="5.31" text-anchor="end" stroke-width="0.17">15.65</text>
<text x="228.00" y="382" font-size="5.31" text-anchor="end" stroke-width="0.17">[10.72; 20.57]</text>
<text x="326.00" y="382" font-size="5.31" text-anchor="end" stroke-width="0.17">0.6%</text>
<text x="-0.20" y="401" font-size="5.31" stroke-width="0.17">27</text>
<text x="52.30" y="401" font-size="5.31" text-anchor="middle" stroke-width="0.17">APP/PS1</text>
<text x="92.50" y="401" font-size="5.31" text-anchor="middle" stroke-width="0.17">2.00</text>
<text x="142.20" y="401" font-size="5.31" text-anchor="middle" stroke-width="0.17">GV20</text>
<text x="189.70" y="401" font-size="5.31" text-anchor="end" stroke-width="0.17">1.60</text>
<text x="228.00" y="401" font-size="5.31" text-anchor="end" stroke-width="0.17">[ 0.30;  2.90]</text>
<text x="326.00" y="401" font-size="5.31" text-anchor="end" stroke-width="0.17">3.7%</text>
<text x="358.60" y="279" font-size="5.10" stroke-width="0.13">2</text>
<text x="406.70" y="279" font-size="5.10" text-anchor="middle" stroke-width="0.13">5xFAD</text>
<text x="445.00" y="279" font-size="5.10" text-anchor="middle" stroke-width="0.13">3</text>
<text x="493.00" y="279" font-size="5.10" text-anchor="middle" stroke-width="0.13">GV20/GV24</text>
<text x="532.00" y="279" font-size="5.10" text-anchor="middle" stroke-width="0.13">1</text>
<text x="556.20" y="279" font-size="5.10" text-anchor="end" stroke-width="0.13">0.85</text>
<text x="590.70" y="279" font-size="5.10" text-anchor="end" stroke-width="0.13">[−0.06; 1.77]</text>
<text x="685.00" y="279" font-size="5.10" text-anchor="end" stroke-width="0.13">5.7%</text>
<text x="358.60" y="285" font-size="5.10" stroke-width="0.13">5</text>
<text x="406.70" y="285" font-size="5.10" text-anchor="middle" stroke-width="0.13">5xFAD/3xTg</text>
<text x="445.00" y="285" font-size="5.10" text-anchor="middle" stroke-width="0.13">4</text>
<text x="493.00" y="285" font-size="5.10" text-anchor="middle" stroke-width="0.13">GV20/GV14</text>
<text x="532.00" y="285" font-size="5.10" text-anchor="middle" stroke-width="0.13">1</text>
<text x="556.20" y="285" font-size="5.10" text-anchor="end" stroke-width="0.13">1.43</text>
<text x="590.70" y="285" font-size="5.10" text-anchor="end" stroke-width="0.13">[ 0.30; 2.57]</text>
<text x="685.00" y="285" font-size="5.10" text-anchor="end" stroke-width="0.13">4.0%</text>
<text x="358.60" y="340" font-size="5.10" stroke-width="0.13">6</text>
<text x="406.70" y="340" font-size="5.10" text-anchor="middle" stroke-width="0.13">5xFAD</text>
<text x="445.00" y="340" font-size="5.10" text-anchor="middle" stroke-width="0.13">9</text>
<text x="493.00" y="340" font-size="5.10" text-anchor="middle" stroke-width="0.13">ST25</text>
<text x="532.00" y="340" font-size="5.10" text-anchor="middle" stroke-width="0.13">1</text>
<text x="556.20" y="340" font-size="5.10" text-anchor="end" stroke-width="0.13">0.05</text>
<text x="590.70" y="340" font-size="5.10" text-anchor="end" stroke-width="0.13">[−0.82; 0.93]</text>
<text x="685.00" y="340" font-size="5.10" text-anchor="end" stroke-width="0.13">6.0%</text>
<text x="358.60" y="346" font-size="5.10" stroke-width="0.13">6</text>
<text x="406.70" y="346" font-size="5.10" text-anchor="middle" stroke-width="0.13">5xFAD</text>
<text x="445.00" y="346" font-size="5.10" text-anchor="middle" stroke-width="0.13">9</text>
<text x="493.00" y="346" font-size="5.10" text-anchor="middle" stroke-width="0.13">ST36</text>
<text x="532.00" y="346" font-size="5.10" text-anchor="middle" stroke-width="0.13">1</text>
<text x="556.20" y="346" font-size="5.10" text-anchor="end" stroke-width="0.13">0.99</text>
<text x="590.70" y="346" font-size="5.10" text-anchor="end" stroke-width="0.13">[ 0.06; 1.92]</text>
<text x="685.00" y="346" font-size="5.10" text-anchor="end" stroke-width="0.13">5.6%</text>
<text x="358.60" y="401" font-size="4.74" stroke-width="0.13">Heterogeneity: <tspan font-style="italic">I</tspan><tspan dy="-2.13" dx="0.28" font-size="3.32">2</tspan><tspan dy="2.13"> = 35%, τ</tspan><tspan dy="-2.13" dx="0.28" font-size="3.32">2</tspan><tspan dy="2.13"> = 0.0744, </tspan><tspan font-style="italic">p</tspan> = 0.16</text>
<text x="385.70" y="55" font-size="5.95" text-anchor="end" fill="#4d4d4d" stroke="#4d4d4d" stroke-width="0.1">−0.4</text>
</g>
<g filter="url(#t8)" stroke="#000" stroke-width="0.18">
<text x="358.30" y="7" font-size="10.00" font-weight="bold" stroke-width="0.1">C</text>
<text x="368.80" y="7" font-size="7.35" stroke-width="0.15">(Escape Latency for Each Day)</text>
<text x="-0.20" y="331" font-size="5.31" stroke-width="0.17">8</text>
<text x="52.30" y="331" font-size="5.31" text-anchor="middle" stroke-width="0.17">5xFAD</text>
<text x="92.50" y="331" font-size="5.31" text-anchor="middle" stroke-width="0.17">5.00</text>
<text x="142.20" y="331" font-size="5.31" text-anchor="middle" stroke-width="0.17">GV20/GV14</text>
<text x="189.70" y="331" font-size="5.31" text-anchor="end" stroke-width="0.17">1.39</text>
<text x="228.00" y="331" font-size="5.31" text-anchor="end" stroke-width="0.17">[ 0.50;  2.29]</text>
<text x="326.00" y="331" font-size="5.31" text-anchor="end" stroke-width="0.17">4.8%</text>
<text x="-0.20" y="350" font-size="5.31" stroke-width="0.17">12</text>
<text x="52.30" y="350" font-size="5.31" text-anchor="middle" stroke-width="0.17">APP/PS1</text>
<text x="92.50" y="350" font-size="5.31" text-anchor="middle" stroke-width="0.17">6.00</text>
<text x="142.20" y="350" font-size="5.31" text-anchor="middle" stroke-width="0.17">GV20/GV26/GV29</text>
<text x="189.70" y="350" font-size="5.31" text-anchor="end" stroke-width="0.17">1.61</text>
<text x="228.00" y="350" font-size="5.31" text-anchor="end" stroke-width="0.17">[ 0.60;  2.62]</text>
<text x="326.00" y="350" font-size="5.31" text-anchor="end" stroke-width="0.17">4.5%</text>
<text x="358.60" y="291" font-size="5.10" stroke-width="0.13">6</text>
<text x="406.70" y="291" font-size="5.10" text-anchor="middle" stroke-width="0.13">5xFAD</text>
<text x="445.00" y="291" font-size="5.10" text-anchor="middle" stroke-width="0.13">3</text>
<text x="493.00" y="291" font-size="5.10" text-anchor="middle" stroke-width="0.13">ST25</text>
<text x="532.00" y="291" font-size="5.10" text-anchor="middle" stroke-width="0.13">1</text>
<text x="556.20" y="291" font-size="5.10" text-anchor="end" stroke-width="0.13">0.00</text>
<text x="590.70" y="291" font-size="5.10" text-anchor="end" stroke-width="0.13">[−0.88; 0.88]</text>
<text x="685.00" y="291" font-size="5.10" text-anchor="end" stroke-width="0.13">6.0%</text>
<text x="358.60" y="352" font-size="5.10" stroke-width="0.13">6</text>
<text x="406.70" y="352" font-size="5.10" text-anchor="middle" stroke-width="0.13">5xFAD</text>
<text x="445.00" y="352" font-size="5.10" text-anchor="middle" stroke-width="0.13">9</text>
<text x="493.00" y="352" font-size="5.10" text-anchor="middle" stroke-width="0.13">ST25</text>
<text x="532.00" y="352" font-size="5.10" text-anchor="middle" stroke-width="0.13">24</text>
<text x="556.20" y="352" font-size="5.10" text-anchor="end" stroke-width="0.13">−0.25</text>
<text x="590.70" y="352" font-size="5.10" text-anchor="end" stroke-width="0.13">[−1.13; 0.63]</text>
<text x="685.00" y="352" font-size="5.10" text-anchor="end" stroke-width="0.13">6.0%</text>
</g>
<g filter="url(#t9)" stroke="#000" stroke-width="0.18">
<text x="-0.20" y="21" font-size="5.53" font-weight="bold" stroke-width="0.12">Paper ID</text>
<text x="57.50" y="21" font-size="5.53" text-anchor="middle" font-weight="bold" stroke-width="0.12">Control Group</text>
<text x="99.10" y="21" font-size="5.53" text-anchor="middle" font-weight="bold" stroke-width="0.12">Age (month)</text>
<text x="144.50" y="21" font-size="5.53" text-anchor="middle" font-weight="bold" stroke-width="0.12">Acupoint</text>
<text x="187.30" y="21" font-size="5.53" text-anchor="end" font-weight="bold" stroke-width="0.12">SMD</text>
<text x="224.50" y="21" font-size="5.53" text-anchor="end" font-weight="bold" stroke-width="0.12">95% CI</text>
<text x="326.00" y="21" font-size="5.53" text-anchor="end" font-weight="bold" stroke-width="0.12">Weight</text>
<text x="265.90" y="21" font-size="5.53" text-anchor="middle" font-weight="bold" stroke-width="0.12">Difference</text>
<text x="-0.20" y="54" font-size="5.53" stroke-width="0.18">6</text>
<text x="57.50" y="54" font-size="5.53" text-anchor="middle" stroke-width="0.18">5xFAD</text>
<text x="99.10" y="54" font-size="5.53" text-anchor="middle" stroke-width="0.18">3.00</text>
<text x="144.50" y="54" font-size="5.53" text-anchor="middle" stroke-width="0.18">ST25</text>
<text x="187.30" y="54" font-size="5.53" text-anchor="end" stroke-width="0.18">−0.09</text>
<text x="224.50" y="54" font-size="5.53" text-anchor="end" stroke-width="0.18">[−0.96; 0.79]</text>
<text x="326.00" y="54" font-size="5.53" text-anchor="end" stroke-width="0.18">4.3%</text>
<text x="-0.20" y="87" font-size="5.53" stroke-width="0.18">6</text>
<text x="57.50" y="87" font-size="5.53" text-anchor="middle" stroke-width="0.18">5xFAD</text>
<text x="99.10" y="87" font-size="5.53" text-anchor="middle" stroke-width="0.18">9.00</text>
<text x="144.50" y="87" font-size="5.53" text-anchor="middle" stroke-width="0.18">ST36</text>
<text x="187.30" y="87" font-size="5.53" text-anchor="end" stroke-width="0.18">0.36</text>
<text x="224.50" y="87" font-size="5.53" text-anchor="end" stroke-width="0.18">[−0.52; 1.25]</text>
<text x="326.00" y="87" font-size="5.53" text-anchor="end" stroke-width="0.18">4.2%</text>
<text x="-0.20" y="120" font-size="5.53" stroke-width="0.18">12</text>
<text x="57.50" y="120" font-size="5.53" text-anchor="middle" stroke-width="0.18">APP/PS1</text>
<text x="99.10" y="120" font-size="5.53" text-anchor="middle" stroke-width="0.18">6.00</text>
<text x="144.50" y="120" font-size="5.53" text-anchor="middle" stroke-width="0.18">GV20/GV26/GV29</text>
<text x="187.30" y="120" font-size="5.53" text-anchor="end" stroke-width="0.18">0.55</text>
<text x="224.50" y="120" font-size="5.53" text-anchor="end" stroke-width="0.18">[−0.34; 1.44]</text>
<text x="326.00" y="120" font-size="5.53" text-anchor="end" stroke-width="0.18">4.2%</text>
<text x="-0.20" y="153" font-size="5.53" stroke-width="0.18">16</text>
<text x="57.50" y="153" font-size="5.53" text-anchor="middle" stroke-width="0.18">APP/PS1</text>
<text x="99.10" y="153" font-size="5.53" text-anchor="middle" stroke-width="0.18">12.00</text>
<text x="144.50" y="153" font-size="5.53" text-anchor="middle" stroke-width="0.18">GV20/GV24</text>
<text x="187.30" y="153" font-size="5.53" text-anchor="end" stroke-width="0.18">1.14</text>
<text x="224.50" y="153" font-size="5.53" text-anchor="end" stroke-width="0.18">[ 0.08; 2.19]</text>
<text x="326.00" y="153" font-size="5.53" text-anchor="end" stroke-width="0.18">3.7%</text>
<text x="-0.20" y="186" font-size="5.53" stroke-width="0.18">25</text>
<text x="57.50" y="186" font-size="5.53" text-anchor="middle" stroke-width="0.18">APP/PS1</text>
<text x="99.10" y="186" font-size="5.53" text-anchor="middle" stroke-width="0.18">6.00</text>
<text x="144.50" y="186" font-size="5.53" text-anchor="middle" stroke-width="0.18">GV20/KI1</text>
<text x="187.30" y="186" font-size="5.53" text-anchor="end" stroke-width="0.18">0.68</text>
<text x="224.50" y="186" font-size="5.53" text-anchor="end" stroke-width="0.18">[ 0.04; 1.31]</text>
<text x="326.00" y="186" font-size="5.53" text-anchor="end" stroke-width="0.18">5.0%</text>
<text x="-0.20" y="261" font-size="5.31" font-weight="bold" stroke-width="0.1">Paper ID</text>
<text x="52.30" y="261" font-size="5.31" text-anchor="middle" font-weight="bold" stroke-width="0.1">Control Group</text>
<text x="92.50" y="261" font-size="5.31" text-anchor="middle" font-weight="bold" stroke-width="0.1">Age (month)</text>
<text x="142.20" y="261" font-size="5.31" text-anchor="middle" font-weight="bold" stroke-width="0.1">Acupoint</text>
<text x="189.70" y="261" font-size="5.31" text-anchor="end" font-weight="bold" stroke-width="0.1">SMD</text>
<text x="228.00" y="261" font-size="5.31" text-anchor="end" font-weight="bold" stroke-width="0.1">95% CI</text>
<text x="326.00" y="261" font-size="5.31" text-anchor="end" font-weight="bold" stroke-width="0.1">Weight</text>
<text x="268.30" y="261" font-size="5.31" text-anchor="middle" font-weight="bold" stroke-width="0.1">Difference</text>
<text x="-0.20" y="280" font-size="5.31" stroke-width="0.17">3</text>
<text x="52.30" y="280" font-size="5.31" text-anchor="middle" stroke-width="0.17">APP/PS1</text>
<text x="92.50" y="280" font-size="5.31" text-anchor="middle" stroke-width="0.17">8.00</text>
<text x="142.20" y="280" font-size="5.31" text-anchor="middle" stroke-width="0.17">GV20/KI1</text>
<text x="189.70" y="280" font-size="5.31" text-anchor="end" stroke-width="0.17">1.17</text>
<text x="228.00" y="280" font-size="5.31" text-anchor="end" stroke-width="0.17">[ 0.36;  1.97]</text>
<text x="326.00" y="280" font-size="5.31" text-anchor="end" stroke-width="0.17">5.0%</text>
<text x="-0.20" y="369" font-size="5.31" stroke-width="0.17">15</text>
<text x="52.30" y="369" font-size="5.31" text-anchor="middle" stroke-width="0.17">APP/PS1</text>
<text x="92.50" y="369" font-size="5.31" text-anchor="middle" stroke-width="0.17">7.00</text>
<text x="142.20" y="369" font-size="5.31" text-anchor="middle" stroke-width="0.17">GV20/GV26/GV29</text>
<text x="189.70" y="369" font-size="5.31" text-anchor="end" stroke-width="0.17">3.48</text>
<text x="228.00" y="369" font-size="5.31" text-anchor="end" stroke-width="0.17">[ 2.09;  4.87]</text>
<text x="326.00" y="369" font-size="5.31" text-anchor="end" stroke-width="0.17">3.5%</text>
<text x="358.60" y="297" font-size="5.10" stroke-width="0.13">6</text>
<text x="406.70" y="297" font-size="5.10" text-anchor="middle" stroke-width="0.13">5xFAD</text>
<text x="445.00" y="297" font-size="5.10" text-anchor="middle" stroke-width="0.13">3</text>
<text x="493.00" y="297" font-size="5.10" text-anchor="middle" stroke-width="0.13">ST36</text>
<text x="532.00" y="297" font-size="5.10" text-anchor="middle" stroke-width="0.13">1</text>
<text x="556.20" y="297" font-size="5.10" text-anchor="end" stroke-width="0.13">−0.50</text>
<text x="590.70" y="297" font-size="5.10" text-anchor="end" stroke-width="0.13">[−1.39; 0.39]</text>
<text x="685.00" y="297" font-size="5.10" text-anchor="end" stroke-width="0.13">5.9%</text>
<text x="358.60" y="358" font-size="5.10" stroke-width="0.13">6</text>
<text x="406.70" y="358" font-size="5.10" text-anchor="middle" stroke-width="0.13">5xFAD</text>
<text x="445.00" y="358" font-size="5.10" text-anchor="middle" stroke-width="0.13">9</text>
<text x="493.00" y="358" font-size="5.10" text-anchor="middle" stroke-width="0.13">ST36</text>
<text x="532.00" y="358" font-size="5.10" text-anchor="middle" stroke-width="0.13">24</text>
<text x="556.20" y="358" font-size="5.10" text-anchor="end" stroke-width="0.13">0.27</text>
<text x="590.70" y="358" font-size="5.10" text-anchor="end" stroke-width="0.13">[−0.61; 1.15]</text>
<text x="685.00" y="358" font-size="5.10" text-anchor="end" stroke-width="0.13">6.0%</text>
</g>
<g filter="url(#t10)" stroke="#000" stroke-width="0.18">
<text x="-0.30" y="7" font-size="10.00" font-weight="bold" stroke-width="0.1">A</text>
<text x="9.65" y="7" font-size="7.35" stroke-width="0.15">(Number of Platform Crossed)</text>
<text x="-0.20" y="34" font-size="5.53" stroke-width="0.18">1</text>
<text x="57.50" y="34" font-size="5.53" text-anchor="middle" stroke-width="0.18">5xFAD</text>
<text x="99.10" y="34" font-size="5.53" text-anchor="middle" stroke-width="0.18">6.00</text>
<text x="144.50" y="34" font-size="5.53" text-anchor="middle" stroke-width="0.18">GV24/GB13</text>
<text x="187.30" y="34" font-size="5.53" text-anchor="end" stroke-width="0.18">1.34</text>
<text x="224.50" y="34" font-size="5.53" text-anchor="end" stroke-width="0.18">[ 0.26; 2.42]</text>
<text x="326.00" y="34" font-size="5.53" text-anchor="end" stroke-width="0.18">3.6%</text>
<text x="-0.20" y="67" font-size="5.53" stroke-width="0.18">6</text>
<text x="57.50" y="67" font-size="5.53" text-anchor="middle" stroke-width="0.18">5xFAD</text>
<text x="99.10" y="67" font-size="5.53" text-anchor="middle" stroke-width="0.18">6.00</text>
<text x="144.50" y="67" font-size="5.53" text-anchor="middle" stroke-width="0.18">ST25</text>
<text x="187.30" y="67" font-size="5.53" text-anchor="end" stroke-width="0.18">−0.11</text>
<text x="224.50" y="67" font-size="5.53" text-anchor="end" stroke-width="0.18">[−0.99; 0.77]</text>
<text x="326.00" y="67" font-size="5.53" text-anchor="end" stroke-width="0.18">4.3%</text>
<text x="-0.20" y="100" font-size="5.53" stroke-width="0.18">7</text>
<text x="57.50" y="100" font-size="5.53" text-anchor="middle" stroke-width="0.18">5xFAD</text>
<text x="99.10" y="100" font-size="5.53" text-anchor="middle" stroke-width="0.18">6.00</text>
<text x="144.50" y="100" font-size="5.53" text-anchor="middle" stroke-width="0.18">GV24</text>
<text x="187.30" y="100" font-size="5.53" text-anchor="end" stroke-width="0.18">0.97</text>
<text x="224.50" y="100" font-size="5.53" text-anchor="end" stroke-width="0.18">[ 0.10; 1.84]</text>
<text x="326.00" y="100" font-size="5.53" text-anchor="end" stroke-width="0.18">4.3%</text>
<text x="-0.20" y="133" font-size="5.53" stroke-width="0.18">14</text>
<text x="57.50" y="133" font-size="5.53" text-anchor="middle" stroke-width="0.18">cDKO</text>
<text x="99.10" y="133" font-size="5.53" text-anchor="middle" stroke-width="0.18">4.00</text>
<text x="144.50" y="133" font-size="5.53" text-anchor="middle" stroke-width="0.18">GV20/GV24</text>
<text x="187.30" y="133" font-size="5.53" text-anchor="end" stroke-width="0.18">1.02</text>
<text x="224.50" y="133" font-size="5.53" text-anchor="end" stroke-width="0.18">[−0.02; 2.06]</text>
<text x="326.00" y="133" font-size="5.53" text-anchor="end" stroke-width="0.18">3.8%</text>
<text x="-0.20" y="166" font-size="5.53" stroke-width="0.18">18</text>
<text x="57.50" y="166" font-size="5.53" text-anchor="middle" stroke-width="0.18">APP/PS1</text>
<text x="99.10" y="166" font-size="5.53" text-anchor="middle" stroke-width="0.18">6.00</text>
<text x="144.50" y="166" font-size="5.53" text-anchor="middle" stroke-width="0.18">GV20/GV26/GV29</text>
<text x="187.30" y="166" font-size="5.53" text-anchor="end" stroke-width="0.18">4.24</text>
<text x="224.50" y="166" font-size="5.53" text-anchor="end" stroke-width="0.18">[ 2.66; 5.82]</text>
<text x="326.00" y="166" font-size="5.53" text-anchor="end" stroke-width="0.18">2.5%</text>
<text x="232.05" y="439" font-size="5.31" text-anchor="middle" stroke-width="0.17">−20</text>
<text x="250.25" y="439" font-size="5.31" text-anchor="middle" stroke-width="0.17">−10</text>
<text x="268.45" y="439" font-size="5.31" text-anchor="middle" stroke-width="0.17">0</text>
<text x="286.65" y="439" font-size="5.31" text-anchor="middle" stroke-width="0.17">10</text>
<text x="304.85" y="439" font-size="5.31" text-anchor="middle" stroke-width="0.17">20</text>
<text x="-0.20" y="299" font-size="5.31" stroke-width="0.17">6</text>
<text x="52.30" y="299" font-size="5.31" text-anchor="middle" stroke-width="0.17">5xFAD</text>
<text x="92.50" y="299" font-size="5.31" text-anchor="middle" stroke-width="0.17">3.00</text>
<text x="142.20" y="299" font-size="5.31" text-anchor="middle" stroke-width="0.17">ST36</text>
<text x="189.70" y="299" font-size="5.31" text-anchor="end" stroke-width="0.17">0.39</text>
<text x="228.00" y="299" font-size="5.31" text-anchor="end" stroke-width="0.17">[−0.50;  1.27]</text>
<text x="326.00" y="299" font-size="5.31" text-anchor="end" stroke-width="0.17">4.8%</text>
<text x="-0.20" y="318" font-size="5.31" stroke-width="0.17">6</text>
<text x="52.30" y="318" font-size="5.31" text-anchor="middle" stroke-width="0.17">5xFAD</text>
<text x="92.50" y="318" font-size="5.31" text-anchor="middle" stroke-width="0.17">9.00</text>
<text x="142.20" y="318" font-size="5.31" text-anchor="middle" stroke-width="0.17">ST25</text>
<text x="189.70" y="318" font-size="5.31" text-anchor="end" stroke-width="0.17">0.68</text>
<text x="228.00" y="318" font-size="5.31" text-anchor="end" stroke-width="0.17">[−0.22;  1.58]</text>
<text x="326.00" y="318" font-size="5.31" text-anchor="end" stroke-width="0.17">4.8%</text>
<text x="-0.20" y="388" font-size="5.31" stroke-width="0.17">20</text>
<text x="52.30" y="388" font-size="5.31" text-anchor="middle" stroke-width="0.17">APP/PS1</text>
<text x="92.50" y="388" font-size="5.31" text-anchor="middle" stroke-width="0.17">7.00</text>
<text x="142.20" y="388" font-size="5.31" text-anchor="middle" stroke-width="0.17">GV20/GV26/GV29</text>
<text x="189.70" y="388" font-size="5.31" text-anchor="end" stroke-width="0.17">1.00</text>
<text x="228.00" y="388" font-size="5.31" text-anchor="end" stroke-width="0.17">[ 0.07;  1.93]</text>
<text x="326.00" y="388" font-size="5.31" text-anchor="end" stroke-width="0.17">4.7%</text>
<text x="-0.20" y="407" font-size="5.31" stroke-width="0.17">28</text>
<text x="52.30" y="407" font-size="5.31" text-anchor="middle" stroke-width="0.17">APP/PS1</text>
<text x="92.50" y="407" font-size="5.31" text-anchor="middle" stroke-width="0.17">10.00</text>
<text x="142.20" y="407" font-size="5.31" text-anchor="middle" stroke-width="0.17">GV20</text>
<text x="189.70" y="407" font-size="5.31" text-anchor="end" stroke-width="0.17">1.10</text>
<text x="228.00" y="407" font-size="5.31" text-anchor="end" stroke-width="0.17">[ 0.24;  1.96]</text>
<text x="326.00" y="407" font-size="5.31" text-anchor="end" stroke-width="0.17">4.9%</text>
<text x="358.60" y="303" font-size="5.10" stroke-width="0.13">6</text>
<text x="406.70" y="303" font-size="5.10" text-anchor="middle" stroke-width="0.13">5xFAD</text>
<text x="445.00" y="303" font-size="5.10" text-anchor="middle" stroke-width="0.13">3</text>
<text x="493.00" y="303" font-size="5.10" text-anchor="middle" stroke-width="0.13">ST25</text>
<text x="532.00" y="303" font-size="5.10" text-anchor="middle" stroke-width="0.13">24</text>
<text x="556.20" y="303" font-size="5.10" text-anchor="end" stroke-width="0.13">0.05</text>
<text x="590.70" y="303" font-size="5.10" text-anchor="end" stroke-width="0.13">[−0.83; 0.92]</text>
<text x="685.00" y="303" font-size="5.10" text-anchor="end" stroke-width="0.13">6.0%</text>
<text x="358.60" y="364" font-size="5.10" stroke-width="0.13">8</text>
<text x="406.70" y="364" font-size="5.10" text-anchor="middle" stroke-width="0.13">5xFAD</text>
<text x="445.00" y="364" font-size="5.10" text-anchor="middle" stroke-width="0.13">5</text>
<text x="493.00" y="364" font-size="5.10" text-anchor="middle" stroke-width="0.13">GV20/GV14</text>
<text x="532.00" y="364" font-size="5.10" text-anchor="middle" stroke-width="0.13">1</text>
<text x="556.20" y="364" font-size="5.10" text-anchor="end" stroke-width="0.13">1.13</text>
<text x="590.70" y="364" font-size="5.10" text-anchor="end" stroke-width="0.13">[ 0.26; 1.99]</text>
<text x="685.00" y="364" font-size="5.10" text-anchor="end" stroke-width="0.13">6.2%</text>
<text x="385.70" y="198" font-size="5.95" text-anchor="end" fill="#4d4d4d" stroke="#4d4d4d" stroke-width="0.1">−1.6</text>
</g>
<g filter="url(#t11)" stroke="#000" stroke-width="0.18">
<text x="239.31" y="219" font-size="5.53" text-anchor="middle" stroke-width="0.18">−4</text>
<text x="252.79" y="219" font-size="5.53" text-anchor="middle" stroke-width="0.18">−2</text>
<text x="266.27" y="219" font-size="5.53" text-anchor="middle" stroke-width="0.18">0</text>
<text x="279.75" y="219" font-size="5.53" text-anchor="middle" stroke-width="0.18">2</text>
<text x="293.23" y="219" font-size="5.53" text-anchor="middle" stroke-width="0.18">4</text>
<text x="-0.20" y="337" font-size="5.31" stroke-width="0.17">9</text>
<text x="52.30" y="337" font-size="5.31" text-anchor="middle" stroke-width="0.17">APP/PS1</text>
<text x="92.50" y="337" font-size="5.31" text-anchor="middle" stroke-width="0.17">5.00</text>
<text x="142.20" y="337" font-size="5.31" text-anchor="middle" stroke-width="0.17">ST36/L111/GV20/GV14</text>
<text x="189.70" y="337" font-size="5.31" text-anchor="end" stroke-width="0.17">0.90</text>
<text x="228.00" y="337" font-size="5.31" text-anchor="end" stroke-width="0.17">[−0.40;  2.20]</text>
<text x="326.00" y="337" font-size="5.31" text-anchor="end" stroke-width="0.17">3.7%</text>
<text x="-0.20" y="356" font-size="5.31" stroke-width="0.17">13</text>
<text x="52.30" y="356" font-size="5.31" text-anchor="middle" stroke-width="0.17">5xFAD</text>
<text x="92.50" y="356" font-size="5.31" text-anchor="middle" stroke-width="0.17">5.50</text>
<text x="142.20" y="356" font-size="5.31" text-anchor="middle" stroke-width="0.17">GV24/GB13</text>
<text x="189.70" y="356" font-size="5.31" text-anchor="end" stroke-width="0.17">1.32</text>
<text x="228.00" y="356" font-size="5.31" text-anchor="end" stroke-width="0.17">[ 0.44;  2.21]</text>
<text x="326.00" y="356" font-size="5.31" text-anchor="end" stroke-width="0.17">4.8%</text>
<text x="-0.20" y="426" font-size="5.31" font-weight="bold" stroke-width="0.1">Random effects model</text>
<text x="189.70" y="426" font-size="5.31" text-anchor="end" font-weight="bold" stroke-width="0.1">1.21</text>
<text x="228.00" y="426" font-size="5.31" text-anchor="end" font-weight="bold" stroke-width="0.1">[ 0.82;  1.60]</text>
<text x="326.00" y="426" font-size="5.31" text-anchor="end" font-weight="bold" stroke-width="0.1">100.0%</text>
<text x="601.40" y="407" font-size="5.10" text-anchor="middle" stroke-width="0.13">−2</text>
<text x="615.45" y="407" font-size="5.10" text-anchor="middle" stroke-width="0.13">−1</text>
<text x="629.50" y="407" font-size="5.10" text-anchor="middle" stroke-width="0.13">0</text>
<text x="643.55" y="407" font-size="5.10" text-anchor="middle" stroke-width="0.13">1</text>
<text x="657.60" y="407" font-size="5.10" text-anchor="middle" stroke-width="0.13">2</text>
<text x="358.60" y="309" font-size="5.10" stroke-width="0.13">6</text>
<text x="406.70" y="309" font-size="5.10" text-anchor="middle" stroke-width="0.13">5xFAD</text>
<text x="445.00" y="309" font-size="5.10" text-anchor="middle" stroke-width="0.13">3</text>
<text x="493.00" y="309" font-size="5.10" text-anchor="middle" stroke-width="0.13">ST36</text>
<text x="532.00" y="309" font-size="5.10" text-anchor="middle" stroke-width="0.13">24</text>
<text x="556.20" y="309" font-size="5.10" text-anchor="end" stroke-width="0.13">0.24</text>
<text x="590.70" y="309" font-size="5.10" text-anchor="end" stroke-width="0.13">[−0.64; 1.12]</text>
<text x="685.00" y="309" font-size="5.10" text-anchor="end" stroke-width="0.13">6.0%</text>
<text x="358.60" y="315" font-size="5.10" stroke-width="0.13">6</text>
<text x="406.70" y="315" font-size="5.10" text-anchor="middle" stroke-width="0.13">5xFAD</text>
<text x="445.00" y="315" font-size="5.10" text-anchor="middle" stroke-width="0.13">6</text>
<text x="493.00" y="315" font-size="5.10" text-anchor="middle" stroke-width="0.13">ST25</text>
<text x="532.00" y="315" font-size="5.10" text-anchor="middle" stroke-width="0.13">1</text>
<text x="556.20" y="315" font-size="5.10" text-anchor="end" stroke-width="0.13">0.24</text>
<text x="590.70" y="315" font-size="5.10" text-anchor="end" stroke-width="0.13">[−0.64; 1.12]</text>
<text x="685.00" y="315" font-size="5.10" text-anchor="end" stroke-width="0.13">6.0%</text>
<text x="358.60" y="370" font-size="5.10" stroke-width="0.13">9</text>
<text x="406.70" y="370" font-size="5.10" text-anchor="middle" stroke-width="0.13">APP/PS1</text>
<text x="445.00" y="370" font-size="5.10" text-anchor="middle" stroke-width="0.13">5</text>
<text x="493.00" y="370" font-size="5.10" text-anchor="middle" stroke-width="0.13">ST36/L111/GV20/GV14</text>
<text x="532.00" y="370" font-size="5.10" text-anchor="middle" stroke-width="0.13">24</text>
<text x="556.20" y="370" font-size="5.10" text-anchor="end" stroke-width="0.13">0.74</text>
<text x="590.70" y="370" font-size="5.10" text-anchor="end" stroke-width="0.13">[−0.55; 2.02]</text>
<text x="685.00" y="370" font-size="5.10" text-anchor="end" stroke-width="0.13">3.3%</text>
<text x="358.60" y="376" font-size="5.10" stroke-width="0.13">14</text>
<text x="406.70" y="376" font-size="5.10" text-anchor="middle" stroke-width="0.13">cDKO</text>
<text x="445.00" y="376" font-size="5.10" text-anchor="middle" stroke-width="0.13">4</text>
<text x="493.00" y="376" font-size="5.10" text-anchor="middle" stroke-width="0.13">GV20/GV24</text>
<text x="532.00" y="376" font-size="5.10" text-anchor="middle" stroke-width="0.13">1</text>
<text x="556.20" y="376" font-size="5.10" text-anchor="end" stroke-width="0.13">1.22</text>
<text x="590.70" y="376" font-size="5.10" text-anchor="end" stroke-width="0.13">[ 0.15; 2.28]</text>
<text x="685.00" y="376" font-size="5.10" text-anchor="end" stroke-width="0.13">4.5%</text>
</g>
<g filter="url(#t12)" stroke="#000" stroke-width="0.18">
<text x="265.90" y="14" font-size="5.53" text-anchor="middle" font-weight="bold" stroke-width="0.12">Standardised Mean</text>
<text x="-0.20" y="47" font-size="5.53" stroke-width="0.18">4</text>
<text x="57.50" y="47" font-size="5.53" text-anchor="middle" stroke-width="0.18">APP/PS1</text>
<text x="99.10" y="47" font-size="5.53" text-anchor="middle" stroke-width="0.18">9.00</text>
<text x="144.50" y="47" font-size="5.53" text-anchor="middle" stroke-width="0.18">GV20/BL23</text>
<text x="187.30" y="47" font-size="5.53" text-anchor="end" stroke-width="0.18">1.84</text>
<text x="224.50" y="47" font-size="5.53" text-anchor="end" stroke-width="0.18">[ 0.80; 2.89]</text>
<text x="326.00" y="47" font-size="5.53" text-anchor="end" stroke-width="0.18">3.7%</text>
<text x="-0.20" y="80" font-size="5.53" stroke-width="0.18">6</text>
<text x="57.50" y="80" font-size="5.53" text-anchor="middle" stroke-width="0.18">5xFAD</text>
<text x="99.10" y="80" font-size="5.53" text-anchor="middle" stroke-width="0.18">9.00</text>
<text x="144.50" y="80" font-size="5.53" text-anchor="middle" stroke-width="0.18">ST25</text>
<text x="187.30" y="80" font-size="5.53" text-anchor="end" stroke-width="0.18">−0.12</text>
<text x="224.50" y="80" font-size="5.53" text-anchor="end" stroke-width="0.18">[−1.00; 0.76]</text>
<text x="326.00" y="80" font-size="5.53" text-anchor="end" stroke-width="0.18">4.3%</text>
<text x="-0.20" y="113" font-size="5.53" stroke-width="0.18">11</text>
<text x="57.50" y="113" font-size="5.53" text-anchor="middle" stroke-width="0.18">APP/PS1</text>
<text x="99.10" y="113" font-size="5.53" text-anchor="middle" stroke-width="0.18">4.00</text>
<text x="144.50" y="113" font-size="5.53" text-anchor="middle" stroke-width="0.18">GV20/GV24</text>
<text x="187.30" y="113" font-size="5.53" text-anchor="end" stroke-width="0.18">0.52</text>
<text x="224.50" y="113" font-size="5.53" text-anchor="end" stroke-width="0.18">[−0.37; 1.41]</text>
<text x="326.00" y="113" font-size="5.53" text-anchor="end" stroke-width="0.18">4.2%</text>
<text x="-0.20" y="146" font-size="5.53" stroke-width="0.18">16</text>
<text x="57.50" y="146" font-size="5.53" text-anchor="middle" stroke-width="0.18">APP/PS1</text>
<text x="99.10" y="146" font-size="5.53" text-anchor="middle" stroke-width="0.18">4.00</text>
<text x="144.50" y="146" font-size="5.53" text-anchor="middle" stroke-width="0.18">GV20/GV24</text>
<text x="187.30" y="146" font-size="5.53" text-anchor="end" stroke-width="0.18">1.46</text>
<text x="224.50" y="146" font-size="5.53" text-anchor="end" stroke-width="0.18">[ 0.36; 2.56]</text>
<text x="326.00" y="146" font-size="5.53" text-anchor="end" stroke-width="0.18">3.6%</text>
<text x="-0.20" y="179" font-size="5.53" stroke-width="0.18">21</text>
<text x="57.50" y="179" font-size="5.53" text-anchor="middle" stroke-width="0.18">APP/PS1</text>
<text x="99.10" y="179" font-size="5.53" text-anchor="middle" stroke-width="0.18">12.00</text>
<text x="144.50" y="179" font-size="5.53" text-anchor="middle" stroke-width="0.18">GV20</text>
<text x="187.30" y="179" font-size="5.53" text-anchor="end" stroke-width="0.18">1.37</text>
<text x="224.50" y="179" font-size="5.53" text-anchor="end" stroke-width="0.18">[ 0.48; 2.26]</text>
<text x="326.00" y="179" font-size="5.53" text-anchor="end" stroke-width="0.18">4.2%</text>
<text x="-0.20" y="212" font-size="5.14" stroke-width="0.13">Heterogeneity: <tspan font-style="italic">I</tspan><tspan dy="-2.31" dx="0.31" font-size="3.60">2</tspan><tspan dy="2.31"> = 64.6%, τ</tspan><tspan dy="-2.31" dx="0.31" font-size="3.60">2</tspan><tspan dy="2.31"> = 0.4111, </tspan><tspan font-style="italic">p</tspan> &lt; 0.0001</text>
<text x="-0.20" y="375" font-size="5.31" stroke-width="0.17">17</text>
<text x="52.30" y="375" font-size="5.31" text-anchor="middle" stroke-width="0.17">APP/PS1</text>
<text x="92.50" y="375" font-size="5.31" text-anchor="middle" stroke-width="0.17">6.00</text>
<text x="142.20" y="375" font-size="5.31" text-anchor="middle" stroke-width="0.17">GV20/GV26/GV29</text>
<text x="189.70" y="375" font-size="5.31" text-anchor="end" stroke-width="0.17">1.63</text>
<text x="228.00" y="375" font-size="5.31" text-anchor="end" stroke-width="0.17">[ 0.62;  2.64]</text>
<text x="326.00" y="375" font-size="5.31" text-anchor="end" stroke-width="0.17">4.5%</text>
<text x="385.70" y="150" font-size="5.95" text-anchor="end" fill="#4d4d4d" stroke="#4d4d4d" stroke-width="0.1">−1.2</text>
<text x="681.00" y="230" font-size="5.23" text-anchor="end" stroke-width="0.2">Error bars represent 95% confidence interval</text>
</g>
</svg>
</body></html>
